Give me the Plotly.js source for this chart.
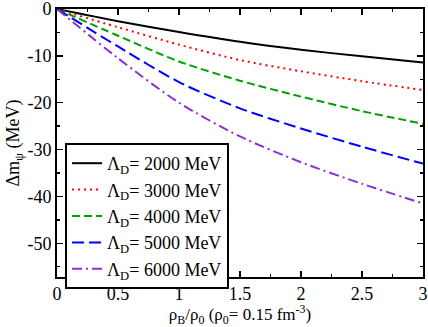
<!DOCTYPE html>
<html>
<head>
<meta charset="utf-8">
<script src="https://cdn.plot.ly/plotly-3.0.1.min.js"></script>
<style>
  html, body { margin: 0; padding: 0; background: #fff; }
  #graph { width: 428px; height: 327px; }
</style>
</head>
<body>
<div id="graph"></div>
<script>
// density ratio rho_B / rho_0
const rho = [0, 0.5, 1, 1.5, 2, 2.5, 3];

// mass shift (MeV) for each cutoff Lambda_D
const dm2000 = [0, -2.6, -4.9, -7.0, -8.7, -10.1, -11.4];
const dm3000 = [0, -3.9, -7.6, -10.9, -13.3, -15.4, -17.3];
const dm4000 = [0, -5.7, -11.2, -15.3, -18.7, -21.8, -24.5];
const dm5000 = [0, -8.0, -15.6, -21.2, -25.5, -29.4, -33.0];
const dm6000 = [0, -10.5, -20.0, -27.2, -32.7, -37.3, -41.5];

const labels = ["2000", "3000", "4000", "5000", "6000"];
const series = [dm2000, dm3000, dm4000, dm5000, dm6000];
const colors = ["#000000", "#ff0000", "#00a000", "#0000ff", "#8a30d8"];
const dashes = ["solid", "2px,4px", "8px,4px", "12px,5px", "10px,4px,2px,4px"];

const serif = "'Liberation Serif', 'DejaVu Serif', serif";

const data = series.map((ys, i) => ({
    x: rho,
    y: ys,
    type: "scatter",
    mode: "lines",
    line: { color: colors[i], width: 2, dash: dashes[i], shape: "spline", smoothing: 0.8 },
    name: "Λ<sub>D</sub>= " + labels[i] + " MeV"
}));

const axisCommon = {
    showgrid: false,
    zeroline: false,
    showline: true,
    linecolor: "#000",
    linewidth: 2,
    mirror: "ticks",
    ticks: "inside",
    ticklen: 6,
    tickwidth: 1.5,
    tickcolor: "#000",
    ticklabeloverflow: "allow",
    tickfont: { family: serif, size: 18, color: "#000" }
};

const layout = {
    width: 428,
    height: 327,
    margin: { l: 57, r: 5, t: 9, b: 50 },
    paper_bgcolor: "#fff",
    plot_bgcolor: "#fff",
    showlegend: true,
    font: { family: serif, color: "#000" },
    legend: {
        x: 0.022, y: 0.50, xanchor: "left", yanchor: "top",
        bgcolor: "#fff", bordercolor: "#000", borderwidth: 2,
        font: { family: serif, size: 18, color: "#000" },
        tracegroupgap: 0
    },
    xaxis: Object.assign({}, axisCommon, {
        range: [0, 3],
        tickvals: [0, 0.5, 1, 1.5, 2, 2.5, 3],
        ticktext: ["0", "0.5", "1", "1.5", "2", "2.5", "3"],
        ticklabelstandoff: -1,
        minor: { dtick: 0.25, ticks: "inside", ticklen: 3, tickcolor: "#000", tickwidth: 1.5 },
        title: {
            text: "ρ<sub>B</sub>/ρ<sub>0</sub> (ρ<sub>0</sub>= 0.15 fm<sup>-3</sup>)",
            font: { family: serif, size: 17, color: "#000" },
            standoff: 5
        }
    }),
    yaxis: Object.assign({}, axisCommon, {
        range: [-57.2, 0],
        tickvals: [0, -10, -20, -30, -40, -50],
        ticktext: ["0", "-10", "-20", "-30", "-40", "-50"],
        minor: { dtick: 5, ticks: "inside", ticklen: 3, tickcolor: "#000", tickwidth: 1.5 },
        title: {
            text: "Δm<sub>ψ</sub> (MeV)",
            font: { family: serif, size: 18, color: "#000" },
            standoff: 3
        }
    })
};

Plotly.newPlot("graph", data, layout, { displayModeBar: false, staticPlot: true });
</script>
</body>
</html>
